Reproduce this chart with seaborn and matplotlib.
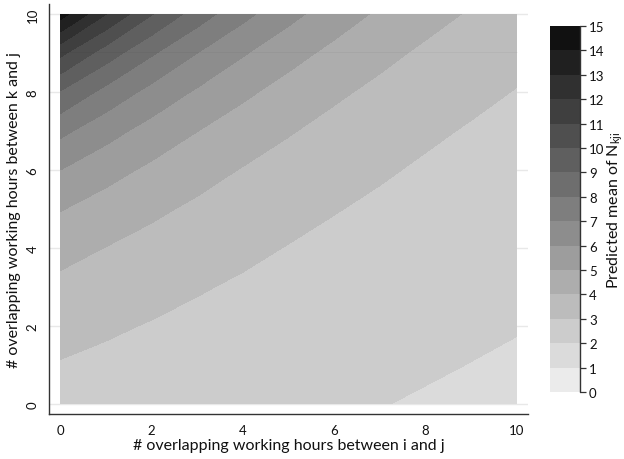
import numpy as np
import matplotlib
matplotlib.use("Agg")
import matplotlib.pyplot as plt
from matplotlib.colors import ListedColormap, BoundaryNorm
import seaborn as sns

# grid of hours (x: between i and j, y: between k and j)
hours_ij = [0, 1, 2, 3, 4, 5, 6, 7, 8, 9, 10]
hours_kj = [0, 1, 2, 3, 4, 5, 6, 7, 8, 9, 10]
# predicted mean, rows = hours_kj, cols = hours_ij
pred_mean = [
    [2.65, 2.55, 2.45, 2.36, 2.27, 2.18, 2.10, 2.02, 1.94, 1.87, 1.80],
    [2.95, 2.81, 2.68, 2.56, 2.45, 2.34, 2.24, 2.15, 2.07, 1.99, 1.92],
    [3.31, 3.12, 2.95, 2.79, 2.65, 2.52, 2.40, 2.30, 2.20, 2.11, 2.03],
    [3.76, 3.51, 3.28, 3.07, 2.89, 2.73, 2.58, 2.46, 2.34, 2.24, 2.15],
    [4.33, 3.98, 3.68, 3.41, 3.18, 2.97, 2.79, 2.64, 2.50, 2.38, 2.27],
    [5.05, 4.58, 4.18, 3.83, 3.52, 3.26, 3.04, 2.85, 2.68, 2.53, 2.41],
    [6.00, 5.35, 4.81, 4.35, 3.95, 3.62, 3.34, 3.10, 2.89, 2.72, 2.57],
    [7.24, 6.36, 5.62, 5.01, 4.50, 4.07, 3.70, 3.40, 3.14, 2.93, 2.75],
    [8.93, 7.69, 6.69, 5.87, 5.19, 4.63, 4.16, 3.78, 3.46, 3.19, 2.97],
    [11.24, 9.51, 8.12, 7.00, 6.09, 5.35, 4.75, 4.25, 3.84, 3.51, 3.23],
    [14.49, 12.01, 10.05, 8.51, 7.28, 6.29, 5.50, 4.85, 4.33, 3.91, 3.56],
]
levels = list(range(16))
axis_ticks = [0, 2, 4, 6, 8, 10]

sns.set_style("white")
plt.rcParams["font.family"] = ["Lato", "DejaVu Sans"]
plt.rcParams["mathtext.fontset"] = "custom"
plt.rcParams["mathtext.rm"] = "Lato"
plt.rcParams["mathtext.it"] = "Lato"

fig = plt.figure(figsize=(6.24, 4.6), dpi=100)
ax = fig.add_axes([49 / 624, 1 - 415 / 460, 479 / 624, 410 / 460])

cols = [str((235 - 15.6 * i) / 255) for i in range(15)]
cmap = ListedColormap(cols)
norm = BoundaryNorm(levels, cmap.N)

for t in axis_ticks:
    ax.axhline(t, color="#e8e8e8", lw=1.0, zorder=0)
cs = ax.contourf(hours_ij, hours_kj, np.array(pred_mean), levels=levels,
                 cmap=cmap, norm=norm, zorder=1)
ax.plot([0, 10], [9.03, 9.03], color="k", alpha=0.035, lw=0.8, zorder=2)

ax.set_xlim(-0.25, 10.25)
ax.set_ylim(-0.26, 10.26)
ax.set_xticks(axis_ticks)
ax.set_yticks(axis_ticks)
sns.despine(ax=ax)
for s in ("left", "bottom"):
    ax.spines[s].set_color("#333333")
    ax.spines[s].set_linewidth(1.0)
ax.tick_params(axis="both", direction="out", length=4.5, width=0.9,
               color="#333333", labelsize=9.5, labelcolor="#111111", pad=3)
ax.tick_params(axis="y", labelrotation=90)
for lab in ax.get_yticklabels():
    lab.set_va("center")
ax.set_xlabel("# overlapping working hours between i and j", fontsize=11.5,
              labelpad=1, color="#111111")
ax.set_ylabel("# overlapping working hours between k and j", fontsize=11.5,
              labelpad=4, color="#111111")

cax = fig.add_axes([550 / 624, 1 - 393 / 460, 30 / 624, 366 / 460])
cb = fig.colorbar(cs, cax=cax, ticks=levels)
cb.outline.set_visible(False)
cax.plot([1, 1], [0, 1], transform=cax.transAxes, color="#333333", lw=1.0,
         clip_on=False)
cax.tick_params(direction="out", length=4.5, width=0.9, color="#333333",
                labelsize=9.5, labelcolor="#111111", pad=2)
cb.set_label("Predicted mean of N$_{\\mathrm{kji}}$", fontsize=11.5,
             color="#111111", labelpad=1)

fig.savefig("out.png", dpi=100)
